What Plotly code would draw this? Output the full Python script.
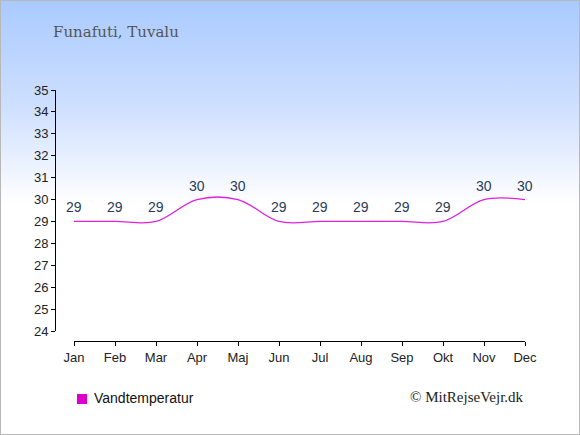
import base64
import plotly.graph_objects as go

# data
months = ['Jan', 'Feb', 'Mar', 'Apr', 'Maj', 'Jun', 'Jul', 'Aug', 'Sep', 'Okt', 'Nov', 'Dec']
water_temp = [29, 29, 29, 30, 30, 29, 29, 29, 29, 29, 30, 30]
y_ticks = list(range(24, 36))

W, H = 580, 435
left, right, top, bottom = 55, 525, 90, 341   # plot area in pixels
pw, ph = right - left, bottom - top


def px_x(p):
    return (p - left) / pw


def px_y(p):
    return (bottom - p) / ph


# gradient background as an svg image
svg = ('<svg xmlns="http://www.w3.org/2000/svg" width="580" height="435">'
       '<defs><linearGradient id="g" x1="0" y1="0" x2="0" y2="1">'
       '<stop offset="0" stop-color="#a9caff"/>'
       '<stop offset="0.25" stop-color="#cfe0ff"/>'
       '<stop offset="0.47" stop-color="#ffffff"/>'
       '<stop offset="1" stop-color="#ffffff"/>'
       '</linearGradient></defs>'
       '<rect width="580" height="435" fill="url(#g)"/></svg>')
bg = 'data:image/svg+xml;base64,' + base64.b64encode(svg.encode()).decode()

fig = go.Figure()
fig.add_trace(go.Scatter(
    x=months, y=water_temp, mode='lines',
    line=dict(color='#e020e0', width=1.3, shape='spline', smoothing=1),
    showlegend=False, hoverinfo='skip',
))

# value labels above each point
labels = []
for m, v in zip(months, water_temp):
    labels.append(dict(x=m, y=v, text=str(v), xref='x', yref='y', yshift=14,
                       showarrow=False, yanchor='middle',
                       font=dict(family='Arial, Liberation Sans', size=14, color='#2b3b5b')))

fig.update_layout(
    width=W, height=H,
    margin=dict(l=left, r=W - right, t=top, b=H - bottom),
    paper_bgcolor='white', plot_bgcolor='rgba(0,0,0,0)',
    font=dict(family='Arial, Liberation Sans', size=13, color='#222222'),
    xaxis=dict(domain=[px_x(74), 1], range=[0, 11], anchor='free', position=0,
               showline=True, linecolor='black', linewidth=1,
               ticks='outside', ticklen=4, tickcolor='black',
               showgrid=False, zeroline=False, fixedrange=True),
    yaxis=dict(domain=[px_y(331), 1], range=[24, 35], anchor='free', position=0,
               tickvals=y_ticks, showline=True, linecolor='black', linewidth=1,
               ticks='outside', ticklen=4, tickcolor='black',
               showgrid=False, zeroline=False, fixedrange=True),
    images=[dict(source=bg, xref='paper', yref='paper', x=px_x(0), y=px_y(0),
                 sizex=W / pw, sizey=H / ph, sizing='stretch', layer='below',
                 xanchor='left', yanchor='top')],
    shapes=[
        dict(type='rect', xref='paper', yref='paper', x0=px_x(0), x1=px_x(W),
             y0=px_y(H), y1=px_y(0), line=dict(color='#b8b8b8', width=2)),
        dict(type='rect', xref='paper', yref='paper', x0=px_x(77), x1=px_x(87),
             y0=px_y(404), y1=px_y(394), fillcolor='#dd00cc', line=dict(width=0)),
    ],
    annotations=labels + [
        dict(text='Funafuti, Tuvalu', xref='paper', yref='paper', x=px_x(51), y=px_y(32),
             xanchor='left', yanchor='middle', showarrow=False,
             font=dict(family='DejaVu Serif, Liberation Serif', size=15, color='#555555')),
        dict(text='Vandtemperatur', xref='paper', yref='paper', x=px_x(92), y=px_y(398),
             xanchor='left', yanchor='middle', showarrow=False,
             font=dict(family='Arial, Liberation Sans', size=14, color='#111111')),
        dict(text='© MitRejseVejr.dk', xref='paper', yref='paper', x=px_x(526), y=px_y(397),
             xanchor='right', yanchor='middle', showarrow=False,
             font=dict(family='Liberation Serif, DejaVu Serif', size=15, color='#222222')),
    ],
)

fig.write_html("out.html", config={'displayModeBar': False},
               post_script="document.body.style.margin='0';")
